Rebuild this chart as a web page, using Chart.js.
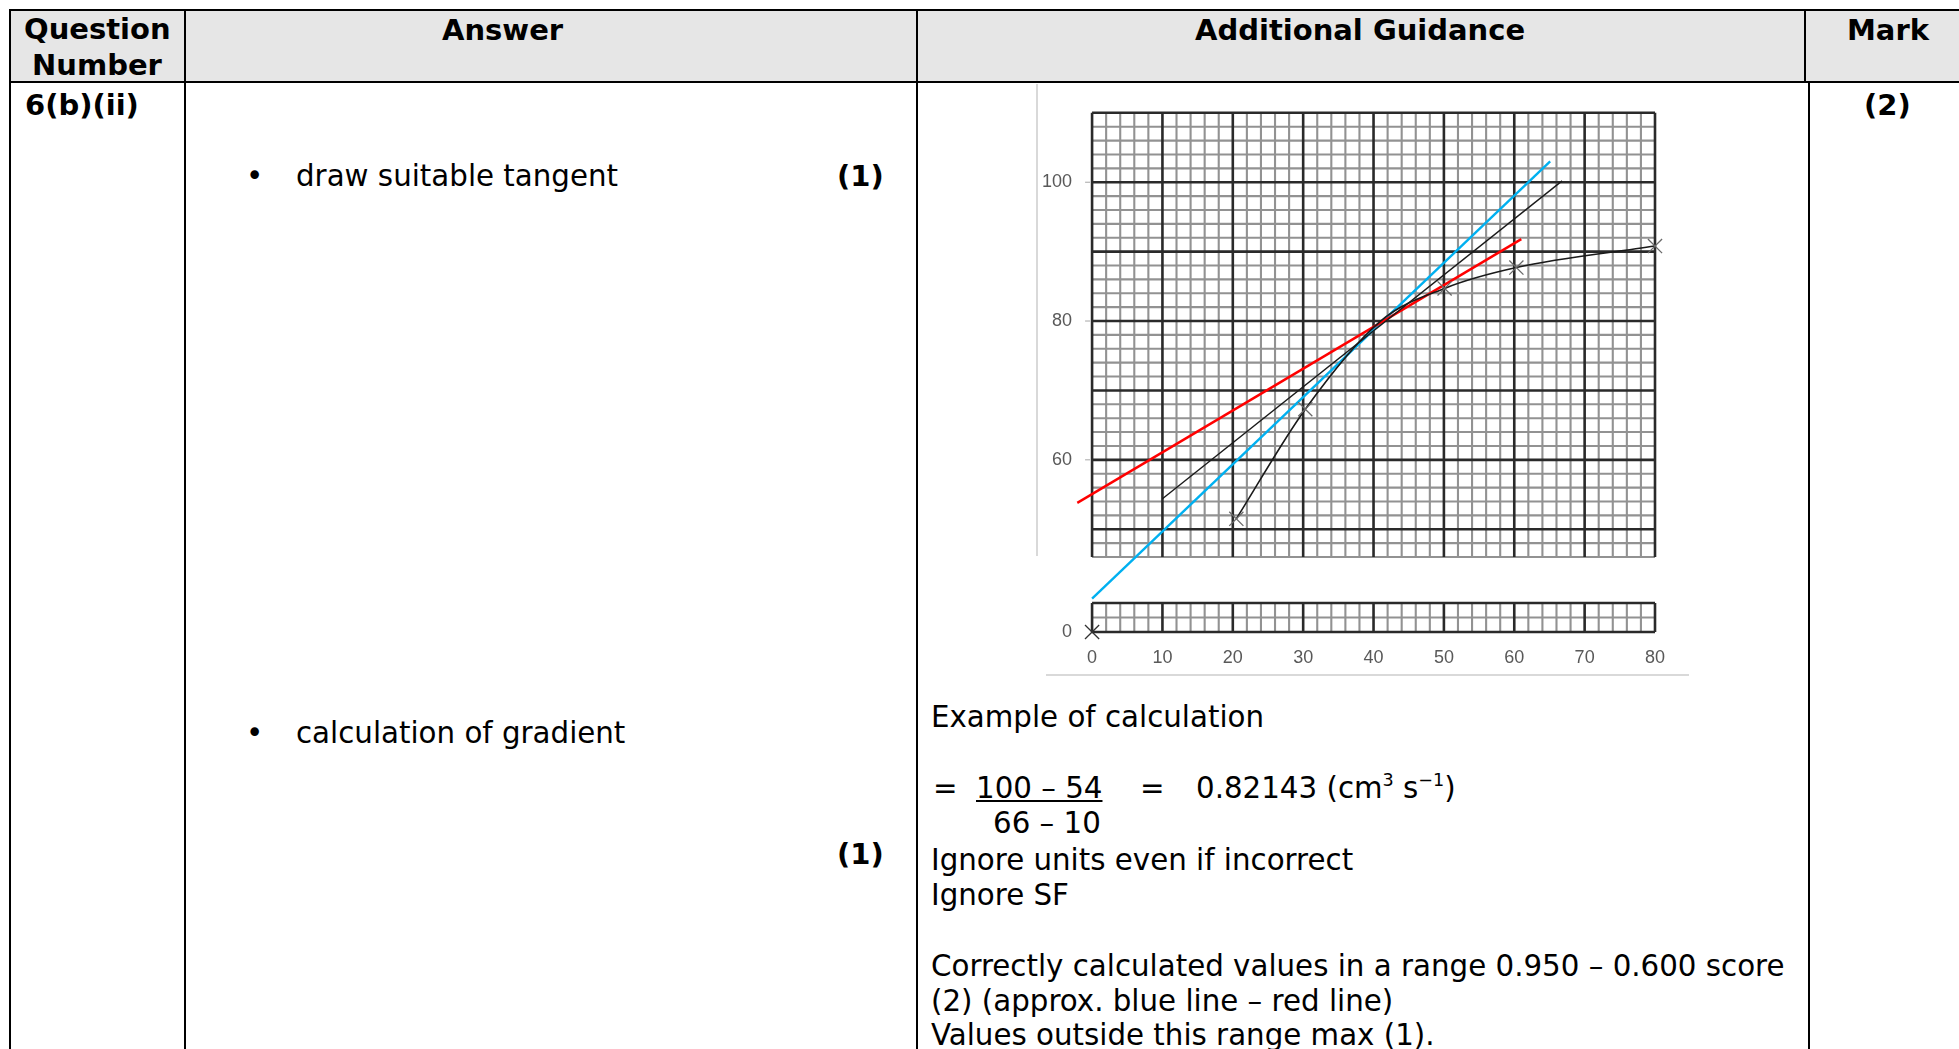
<!DOCTYPE html>
<html>
<head>
<meta charset="utf-8">
<script src="https://cdn.jsdelivr.net/npm/chart.js@4.4.0/dist/chart.umd.min.js"></script>
<style>
  html, body { margin: 0; padding: 0; background: #fff; overflow: hidden; width: 1959px; height: 1049px; }
  body { position: relative; font-family: "DejaVu Sans", Verdana, sans-serif; color: #000; }
  .t { position: absolute; white-space: pre; font-size: 29.3px; line-height: 36px; }
  .b { font-weight: bold; font-size: 29px; }
  .ln { position: absolute; background: #000; }
  .hd { position: absolute; background: #e6e6e6; }
  canvas { position: absolute; }
  sup { font-size: 60%; line-height: 0; vertical-align: 0.7em; }
</style>
</head>
<body>
<!-- header shading -->
<div class="hd" style="left:10px;top:11px;width:1949px;height:71px"></div>

<!-- table rules -->
<div class="ln" style="left:9px;top:9px;width:1950px;height:2px"></div>
<div class="ln" style="left:9px;top:81px;width:1950px;height:2px"></div>
<div class="ln" style="left:9px;top:9px;width:2px;height:1040px"></div>
<div class="ln" style="left:184px;top:9px;width:2px;height:1040px"></div>
<div class="ln" style="left:916px;top:9px;width:2px;height:1040px"></div>
<div class="ln" style="left:1804px;top:9px;width:2px;height:73px"></div>
<div class="ln" style="left:1808px;top:82px;width:2px;height:967px"></div>

<!-- header text -->
<div class="t b" style="left:24px;top:11px">Question</div>
<div class="t b" style="left:32px;top:47px">Number</div>
<div class="t b" style="left:442px;top:12px">Answer</div>
<div class="t b" style="left:1195px;top:12px">Additional Guidance</div>
<div class="t b" style="left:1847px;top:12px">Mark</div>

<!-- body text -->
<div class="t b" style="left:25px;top:87px">6(b)(ii)</div>
<div class="t b" style="left:1864px;top:87px">(2)</div>

<div class="t" style="left:246px;top:158px">•</div>
<div class="t" style="left:296px;top:158px">draw suitable tangent</div>
<div class="t b" style="left:837px;top:158px">(1)</div>

<div class="t" style="left:246px;top:715px">•</div>
<div class="t" style="left:296px;top:715px">calculation of gradient</div>
<div class="t b" style="left:837px;top:836px">(1)</div>

<div class="t" style="left:931px;top:699px">Example of calculation</div>
<div class="t" style="left:933px;top:770px">=</div>
<div class="t" style="left:976px;top:770px;text-decoration:underline">100 – 54</div>
<div class="t" style="left:1140px;top:770px">=</div>
<div class="t" style="left:1196px;top:770px">0.82143 (cm<sup>3</sup> s<sup>−1</sup>)</div>
<div class="t" style="left:993px;top:805px">66 – 10</div>
<div class="t" style="left:931px;top:842px">Ignore units even if incorrect</div>
<div class="t" style="left:931px;top:877px">Ignore SF</div>
<div class="t" style="left:931px;top:948px">Correctly calculated values in a range 0.950 – 0.600 score</div>
<div class="t" style="left:931px;top:983px">(2) (approx. blue line – red line)</div>
<div class="t" style="left:931px;top:1017px">Values outside this range max (1).</div>

<!-- chart frame lines -->
<div class="ln" style="left:1036px;top:84px;width:2px;height:472px;background:#d9d9d9"></div>
<div class="ln" style="left:1046px;top:674px;width:643px;height:2px;background:#d9d9d9"></div>

<canvas id="upper" width="639" height="535" style="left:1036px;top:72px"></canvas>
<canvas id="lower" width="649" height="89" style="left:1036px;top:583px"></canvas>

<script>
// measured curve (crosses) and the three tangents
const curveX = [20.5, 30.3, 41, 50.1, 60.3, 80];
const curveY = [51.5, 67.3, 80, 84.7, 87.7, 90.8];
const tangentX = [10, 66.8];
const tangentY = [54.4, 100.2];
const blueX = [0, 65.1];
const blueY = [40, 103];
const redX = [-2.1, 61];
const redY = [53.8, 91.8];
const originX = [0];
const originY = [0];

// axes
const xTicks = [0, 10, 20, 30, 40, 50, 60, 70, 80];
const yTicksUpper = [60, 80, 100];
const yTicksLower = [0];
const gridX = [0, 80];
const gridUpper = [46, 110];
const gridLower = [0, 4];

const pts = (xs, ys) => xs.map((v, i) => ({ x: v, y: ys[i] }));

// graph paper: 2-unit minor squares, 10-unit major lines
const paper = {
  id: 'paper',
  beforeDatasetsDraw(chart, args, opts) {
    const { ctx, scales: { x, y } } = chart;
    const [ya, yb] = opts.yRange;
    const [xa, xb] = gridX;
    const px = v => x.getPixelForValue(v);
    const py = v => y.getPixelForValue(v);
    const isMajor = (v, edges) => v % 10 === 0 || (opts.edges && (v === edges[0] || v === edges[1]));
    ctx.save();
    for (const pass of [false, true]) {
      ctx.strokeStyle = pass ? '#2a2a2a' : '#929292';
      ctx.lineWidth = pass ? 2.6 : 2.1;
      ctx.beginPath();
      for (let v = ya; v <= yb; v += 2) {
        if (isMajor(v, opts.yRange) !== pass) continue;
        ctx.moveTo(px(xa), py(v));
        ctx.lineTo(px(xb), py(v));
      }
      for (let v = xa; v <= xb; v += 2) {
        if (isMajor(v, gridX) !== pass) continue;
        ctx.moveTo(px(v), py(ya));
        ctx.lineTo(px(v), py(yb));
      }
      ctx.stroke();
    }
    // little tick marks left of the paper
    ctx.strokeStyle = '#a6a6a6';
    ctx.lineWidth = 1;
    ctx.beginPath();
    for (const t of opts.ticks) {
      ctx.moveTo(px(xa) - 7, py(t));
      ctx.lineTo(px(xa) - 2, py(t));
    }
    ctx.stroke();
    ctx.restore();
  }
};

const labelFont = { family: 'Liberation Sans', size: 18 };

function xScale(show) {
  return {
    type: 'linear', min: -2, max: 80, display: show,
    afterBuildTicks: a => { a.ticks = xTicks.map(v => ({ value: v })); },
    afterFit: a => { if (show) a.height = 40; },
    grid: { display: false, drawTicks: false },
    border: { display: false },
    ticks: { color: '#595959', font: labelFont, padding: 15, maxRotation: 0 }
  };
}

function yScale(min, max, ticks) {
  return {
    type: 'linear', min: min, max: max, position: 'left',
    afterBuildTicks: a => { a.ticks = ticks.map(v => ({ value: v })); },
    afterFit: a => { a.width = 42; },
    grid: { display: false, drawTicks: false },
    border: { display: false },
    ticks: { color: '#595959', font: labelFont, padding: 6 }
  };
}

const cross = { pointStyle: 'crossRot', pointRadius: 10, pointBorderColor: '#6a6a6a', pointBorderWidth: 1.3, pointBackgroundColor: 'transparent' };

new Chart(document.getElementById('upper'), {
  type: 'scatter',
  data: {
    datasets: [
      { data: pts(curveX, curveY), showLine: true, borderColor: '#1a1a1a', borderWidth: 1.6,
        cubicInterpolationMode: 'monotone', ...cross,
        pointRadius: c => c.dataIndex === 2 ? 0 : 10 },
      { data: pts(tangentX, tangentY), showLine: true, borderColor: '#1a1a1a', borderWidth: 1.4, pointRadius: 0 },
      { data: pts(redX, redY), showLine: true, borderColor: '#ff0000', borderWidth: 2.4, pointRadius: 0 },
      { data: pts(blueX, blueY), showLine: true, borderColor: '#00b0f0', borderWidth: 2.4, pointRadius: 0 }
    ]
  },
  options: {
    responsive: false, animation: false,
    clip: false,
    layout: { padding: { left: 0, right: 20, top: 20, bottom: 50 } },
    plugins: { legend: { display: false }, tooltip: { enabled: false },
      paper: { yRange: gridUpper, ticks: yTicksUpper, edges: false } },
    scales: { x: xScale(false), y: yScale(46, 113, yTicksUpper) }
  },
  plugins: [paper]
});

new Chart(document.getElementById('lower'), {
  type: 'scatter',
  data: {
    datasets: [
      { data: pts(originX, originY), ...cross, pointBorderColor: '#333' }
    ]
  },
  options: {
    responsive: false, animation: false,
    clip: false,
    layout: { padding: { left: 0, right: 30, top: 20, bottom: 0 } },
    plugins: { legend: { display: false }, tooltip: { enabled: false },
      paper: { yRange: gridLower, ticks: [], edges: true } },
    scales: { x: xScale(true), y: yScale(0, 4, yTicksLower) }
  },
  plugins: [paper]
});
</script>
</body>
</html>
